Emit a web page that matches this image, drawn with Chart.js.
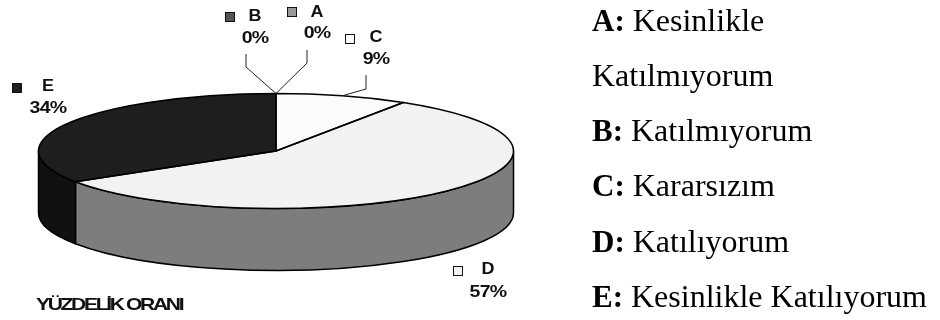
<!DOCTYPE html>
<html>
<head>
<meta charset="utf-8">
<style>
  html, body { margin: 0; padding: 0; background: #fff; }
  canvas { display: block; }
</style>
<script src="https://cdn.jsdelivr.net/npm/chart.js@4"></script>
</head>
<body>
<canvas id="pie" width="940" height="320"></canvas>
<script>
const categories = ["A", "B", "C", "D", "E"];
const percents = [0, 0, 9, 57, 34];
const topColors = ["#979797", "#555555", "#fbfbfb", "#f2f2f2", "#1e1e1e"];
const sideColors = ["#6e6e6e", "#333333", "#b5b5b5", "#7d7d7d", "#111111"];
const chartTitle = "YÜZDELİK ORANI";
const explanations = [
    ["A:", "Kesinlikle"],
    ["", "Katılmıyorum"],
    ["B:", "Katılmıyorum"],
    ["C:", "Kararsızım"],
    ["D:", "Katılıyorum"],
    ["E:", "Kesinlikle Katılıyorum"],
];

const RX = 237.5;
const RY = 57.5;
const DEPTH = 62;

// where each slice label sits, and the leader line elbows
const labelPos = {
    A: { box: [287, 7], x: 317, y: 13, py: 34, elbow: [[307, 63], [307, 50]] },
    B: { box: [225, 12], x: 255, y: 17, py: 39, elbow: [[246, 67], [246, 54]] },
    C: { box: [345, 34], x: 376, y: 38, py: 60, elbow: [[366, 89], [366, 75]] },
    D: { box: [453, 266], x: 488, y: 270, py: 293 },
    E: { box: [12, 83], x: 48, y: 87, py: 109 },
};
const textLines = [31, 86, 141, 196, 252, 307];

function arcPoint(arc, angle) {
    return [arc.x + RX * Math.cos(angle), arc.y + RY * Math.sin(angle)];
}

// the labels in the picture are stretched sideways
function wideText(ctx, text, x, y, sx) {
    ctx.save();
    ctx.translate(x, y);
    ctx.scale(sx, 1);
    ctx.fillText(text, 0, 0);
    ctx.restore();
}

const pie3d = {
    id: "pie3d",
    beforeDatasetsDraw(chart) {
        const ctx = chart.ctx;
        const arcs = chart.getDatasetMeta(0).data;
        // side wall, only the part of a slice that faces the front
        arcs.forEach((arc, i) => {
            const a = Math.max(arc.startAngle, 0);
            const b = Math.min(arc.endAngle, Math.PI);
            if (b <= a) return;
            ctx.save();
            ctx.beginPath();
            ctx.ellipse(arc.x, arc.y, RX, RY, 0, a, b);
            ctx.ellipse(arc.x, arc.y + DEPTH, RX, RY, 0, b, a, true);
            ctx.closePath();
            ctx.fillStyle = sideColors[i];
            ctx.fill();
            ctx.lineWidth = 1.5;
            ctx.strokeStyle = "#000";
            ctx.stroke();
            ctx.restore();
        });
        // squash the flat pie into the top face
        const first = arcs[0];
        ctx.save();
        ctx.translate(first.x, first.y);
        ctx.scale(1, RY / RX);
        ctx.translate(-first.x, -first.y);
    },
    afterDatasetsDraw(chart) {
        const ctx = chart.ctx;
        ctx.restore();
        const arcs = chart.getDatasetMeta(0).data;
        ctx.save();
        ctx.strokeStyle = "#000";
        ctx.lineWidth = 1.5;
        arcs.forEach((arc) => {
            if (arc.endAngle - arc.startAngle <= 0) return;
            ctx.beginPath();
            ctx.moveTo(arc.x, arc.y);
            ctx.ellipse(arc.x, arc.y, RX, RY, 0, arc.startAngle, arc.endAngle);
            ctx.closePath();
            ctx.stroke();
        });

        // leader lines start on the rim, at the middle of the slice
        ctx.lineWidth = 1;
        ctx.strokeStyle = "#222";
        arcs.forEach((arc, i) => {
            const pos = labelPos[categories[i]];
            if (!pos.elbow) return;
            const start = arcPoint(arc, (arc.startAngle + arc.endAngle) / 2);
            ctx.beginPath();
            ctx.moveTo(start[0], start[1]);
            pos.elbow.forEach((p) => ctx.lineTo(p[0], p[1]));
            ctx.stroke();
        });

        // slice labels
        ctx.textAlign = "center";
        ctx.textBaseline = "middle";
        categories.forEach((name, i) => {
            const pos = labelPos[name];
            ctx.fillStyle = topColors[i];
            ctx.fillRect(pos.box[0], pos.box[1], 10, 10);
            ctx.strokeStyle = "#111";
            ctx.lineWidth = 1;
            ctx.strokeRect(pos.box[0] + 0.5, pos.box[1] + 0.5, 9, 9);
            ctx.fillStyle = "#111";
            ctx.font = "bold 16px 'Liberation Sans'";
            ctx.letterSpacing = "0px";
            wideText(ctx, name, pos.x, pos.y, 1.12);
            ctx.letterSpacing = "-0.6px";
            wideText(ctx, percents[i] + "%", pos.x, pos.py, 1.22);
        });

        // bottom caption
        ctx.textAlign = "left";
        ctx.letterSpacing = "-1.9px";
        ctx.font = "bold 17px 'Liberation Sans'";
        wideText(ctx, chartTitle, 36, 305, 1.24);

        // explanation list on the right
        ctx.letterSpacing = "0px";
        ctx.textBaseline = "alphabetic";
        ctx.fillStyle = "#000";
        explanations.forEach((row, i) => {
            let x = 592;
            if (row[0]) {
                ctx.font = "bold 31px 'Liberation Serif'";
                ctx.fillText(row[0], x, textLines[i]);
                x += ctx.measureText(row[0]).width + 8;
            }
            ctx.font = "32px 'Liberation Serif'";
            ctx.fillText(row[1], x, textLines[i]);
        });
        ctx.restore();
    },
};

new Chart(document.getElementById("pie"), {
    type: "pie",
    data: {
        labels: categories,
        datasets: [
            {
                data: percents,
                backgroundColor: topColors,
                borderWidth: 0,
                clip: false,
                radius: RX,
            },
        ],
    },
    options: {
        responsive: false,
        animation: false,
        layout: {
            padding: { right: 388, bottom: 18 },
        },
        plugins: {
            legend: { display: false },
            tooltip: { enabled: false },
        },
    },
    plugins: [pie3d],
});
</script>
</body>
</html>
